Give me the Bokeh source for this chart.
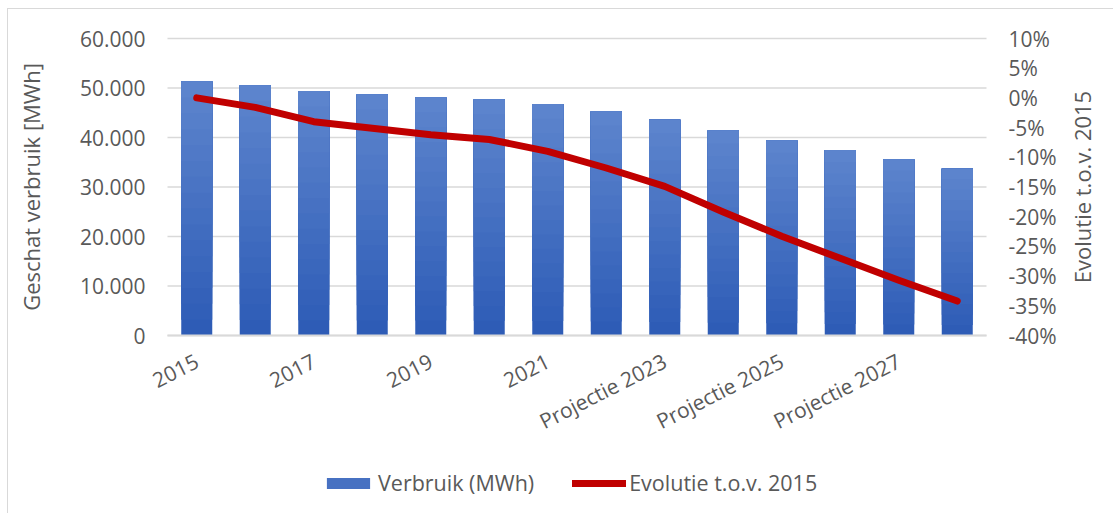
import math
from bokeh.plotting import figure
from bokeh.models import (Range1d, LinearAxis, FixedTicker, Legend, LegendItem, Label)
from bokeh.embed import file_html
from bokeh.resources import INLINE

categories = ["2015", "2016", "2017", "2018", "2019", "2020", "2021",
              "Projectie 2022", "Projectie 2023", "Projectie 2024", "Projectie 2025",
              "Projectie 2026", "Projectie 2027", "Projectie 2028"]
verbruik = [51300, 50500, 49350, 48700, 48100, 47700, 46700,
            45250, 43600, 41400, 39400, 37400, 35550, 33700]
evolutie = [0.0, -1.6, -4.0, -5.1, -6.2, -7.0, -9.0,
            -11.8, -14.9, -19.2, -23.3, -27.0, -30.7, -34.2]

left_ticks = [0, 10000, 20000, 30000, 40000, 50000, 60000]
left_tick_labels = ["0", "10.000", "20.000", "30.000", "40.000", "50.000", "60.000"]
right_ticks = [-40, -35, -30, -25, -20, -15, -10, -5, 0, 5, 10]
right_tick_labels = ["-40%", "-35%", "-30%", "-25%", "-20%", "-15%", "-10%",
                     "-5%", "0%", "5%", "10%"]

FONT = "Open Sans"
TXT = "#595959"
GRID = "#D9D9D9"

# ---- pixel layout (page pixels); the whole figure is the plotting frame ----
OX, OY = 8, 9                # canvas origin on the page (css margin + 1px border)
W, H = 1106, 505
PLOT_L, PLOT_R = 167 - OX, 986 - OX
PLOT_T, PLOT_B = 38 - OY, 335 - OY
n = len(categories)
xmin_d, xmax_d = -0.5, n - 0.5
ymin_d, ymax_d = left_ticks[0], left_ticks[-1]
pmin_d, pmax_d = right_ticks[0], right_ticks[-1]

def span(lo_px, hi_px, lo_d, hi_d, total_px, flip=False):
    s = (hi_d - lo_d) / (hi_px - lo_px)
    if not flip:
        return lo_d - lo_px * s, lo_d + (total_px - lo_px) * s
    top = hi_d + lo_px * s
    return top - total_px * s, top

x0, x1 = span(PLOT_L, PLOT_R, xmin_d, xmax_d, W)
y0, y1 = span(PLOT_T, PLOT_B, ymin_d, ymax_d, H, flip=True)
q0, q1 = span(PLOT_T, PLOT_B, pmin_d, pmax_d, H, flip=True)

def xdata(page_x):
    return xmin_d + (page_x - OX - PLOT_L) * (xmax_d - xmin_d) / (PLOT_R - PLOT_L)

x = list(range(n))

p = figure(width=W, height=H, output_backend="svg", toolbar_location=None,
           x_range=Range1d(x0, x1), y_range=Range1d(y0, y1),
           min_border_left=0, min_border_right=0, min_border_top=0,
           min_border_bottom=0)
p.styles = {"margin-left": "7px", "margin-top": "8px",
            "border-left": "1px solid #D9D9D9", "border-top": "1px solid #D9D9D9"}
p.outline_line_color = None
p.extra_y_ranges = {"pct": Range1d(q0, q1)}
p.xgrid.grid_line_color = None
p.ygrid.grid_line_color = None

# horizontal gridlines limited to the plot area
p.segment(x0=[xmin_d] * len(left_ticks), x1=[xmax_d] * len(left_ticks),
          y0=left_ticks, y1=left_ticks, line_color=GRID, line_width=1.5,
          level="underlay")

# pseudo-gradient bars (light top, dark bottom), each layer spans value*frac .. value
K = 16
c0 = (46, 92, 182)
c1 = (92, 132, 205)
bar_renderers = []
for k in range(K):
    t = k / (K - 1)
    col = "#%02x%02x%02x" % tuple(int(round(a + (b - a) * t)) for a, b in zip(c0, c1))
    frac = k / K
    r = p.vbar(x=x, width=0.53, bottom=[v * frac for v in verbruik], top=verbruik,
               fill_color=col, line_color=None)
    bar_renderers.append(r)

line_r = p.line(x, evolutie, y_range_name="pct", line_color="#C00000", line_width=7,
                line_cap="round", line_join="round")

# left axis
ya = p.yaxis[0]
ya.fixed_location = xmin_d
ya.ticker = FixedTicker(ticks=left_ticks)
ya.major_label_overrides = dict(zip(left_ticks, left_tick_labels))
ya.major_label_standoff = 22

# right axis
ra = LinearAxis(y_range_name="pct", ticker=FixedTicker(ticks=right_ticks),
                major_label_overrides=dict(zip(right_ticks, right_tick_labels)))
ra.fixed_location = xmax_d
ra.major_label_standoff = 22
p.add_layout(ra, "right")

# x axis
xa = p.xaxis[0]
xa.fixed_location = ymin_d
xa.bounds = (xmin_d, xmax_d)
xa.ticker = FixedTicker(ticks=x[::2])
xa.major_label_overrides = {i: categories[i] for i in x[::2]}
xa.major_label_orientation = 0.47
xa.axis_line_color = GRID
xa.axis_line_width = 2
xa.major_label_standoff = 24

for ax in [ya, ra, xa]:
    if ax is not xa:
        ax.axis_line_color = None
    ax.major_tick_line_color = None
    ax.minor_tick_line_color = None
    ax.major_tick_out = 0
    ax.major_tick_in = 0
    ax.minor_tick_out = 0
    ax.minor_tick_in = 0
    ax.major_label_text_font = FONT
    ax.major_label_text_font_size = "21px"
    ax.major_label_text_color = TXT

# axis titles, both reading bottom-to-top, centred on the plot area
ymid = (ymin_d + ymax_d) / 2
lt = Label(x=xdata(30), y=ymid, text="Geschat verbruik [MWh]", angle=math.pi / 2,
           text_align="center", text_baseline="middle", text_font=FONT,
           text_font_size="22px", text_color=TXT)
rt = Label(x=xdata(1081), y=ymid, text="Evolutie t.o.v. 2015", angle=math.pi / 2,
           text_align="center", text_baseline="middle", text_font=FONT,
           text_font_size="22px", text_color=TXT)
p.add_layout(lt)
p.add_layout(rt)

legend = Legend(items=[LegendItem(label="Verbruik (MWh)", renderers=[bar_renderers[K // 2]]),
                       LegendItem(label="Evolutie t.o.v. 2015", renderers=[line_r])],
                location=(322 - OX - 1, 17), orientation="horizontal")
legend.label_text_font = FONT
legend.label_text_font_size = "21.5px"
legend.label_text_color = TXT
legend.glyph_width = 54
legend.glyph_height = 14
legend.label_standoff = 3
legend.spacing = 38
legend.padding = 0
legend.margin = 0
legend.border_line_color = None
legend.background_fill_alpha = 0
p.add_layout(legend)

open("out.html", "w").write(file_html(p, INLINE))
